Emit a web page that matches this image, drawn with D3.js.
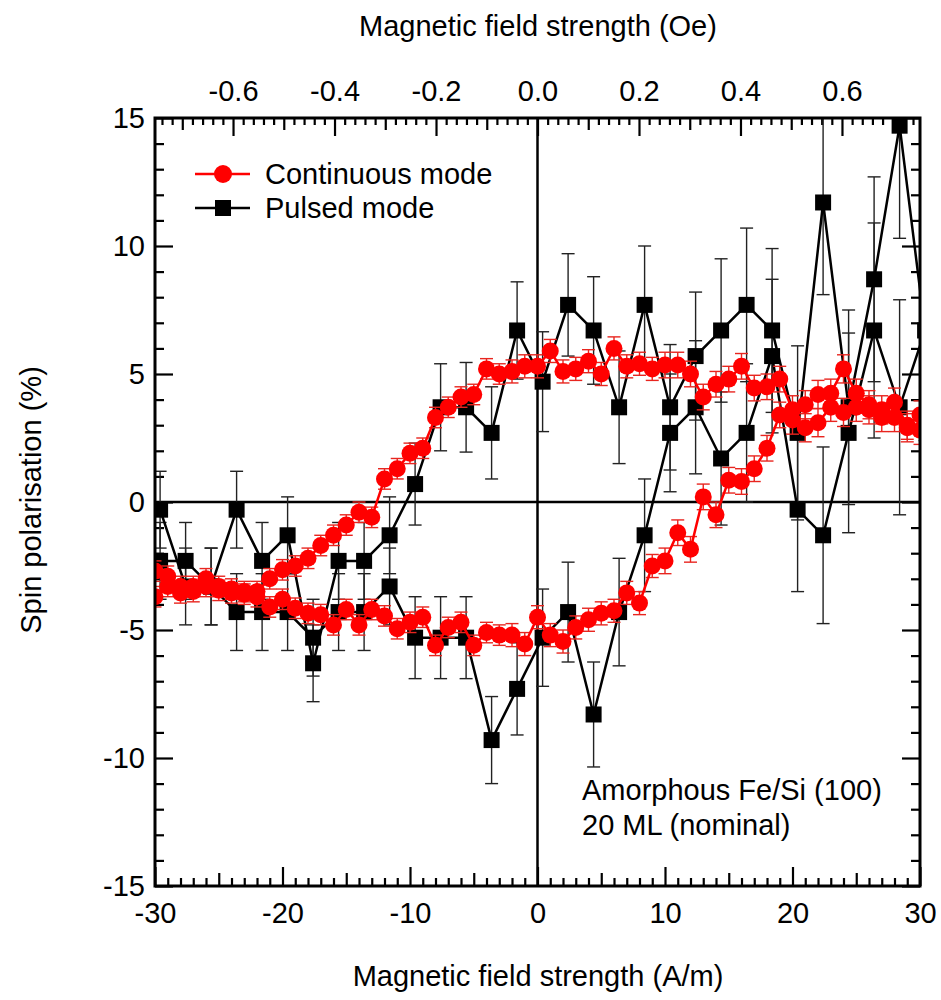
<!DOCTYPE html>
<html>
<head>
<meta charset="utf-8">
<script src="https://cdn.jsdelivr.net/npm/d3@7"></script>
<style>
  body { margin: 0; background: #fff; }
  svg text { font-family: "Liberation Sans", Arial, sans-serif; fill: #000; }
</style>
</head>
<body>
<div id="chart"></div>
<script>
// Datos: modo continuo (rojo, cada 1 A/m) y modo pulsado (negro, cada 2 A/m)
// Cada modo es un ciclo de histéresis: rama inferior (campo creciente) y rama superior.
const contX = [-30,-29,-28,-27,-26,-25,-24,-23,-22,-21,-20,-19,-18,-17,-16,-15,-14,-13,-12,-11,
  -10,-9,-8,-7,-6,-5,-4,-3,-2,-1,0,1,2,3,4,5,6,7,8,9,10,11,12,13,14,15,16,17,18,19,20,
  21,22,23,24,25,26,27,28,29,30];
const contLow = [-3.7,-3.3,-3.55,-3.5,-3.3,-3.45,-3.55,-3.6,-3.7,-4.1,-3.8,-4.15,-4.35,-4.4,-4.8,-4.2,-4.8,-4.2,-4.45,-4.95,
  -4.7,-4.5,-5.6,-4.9,-4.7,-5.6,-5.1,-5.2,-5.2,-5.55,-4.5,-5.2,-5.45,-4.9,-4.6,-4.35,-4.25,-3.55,-3.95,-2.5,-2.3,
  -1.2,-1.85,0.2,-0.5,0.85,0.8,1.3,2.1,3.4,3.2,2.9,3.1,3.7,3.5,3.7,3.6,3.3,3.3,2.9,2.8];
const contUp = [-2.7,-2.9,-3.3,-3.3,-3.0,-3.3,-3.4,-3.5,-3.5,-3.0,-2.65,-2.5,-2.2,-1.7,-1.3,-0.9,-0.4,-0.6,0.9,1.3,
  1.9,2.1,3.3,3.7,4.1,4.2,5.2,5.0,5.1,5.3,5.3,5.9,5.1,5.2,5.5,5.0,6.0,5.3,5.4,5.2,5.35,
  5.35,5.0,4.1,4.6,4.8,5.3,4.45,4.5,4.8,3.6,3.8,4.2,4.25,5.2,4.25,3.8,3.6,3.9,3.0,3.4];
const contLowErr = [0.4,0.4,0.4,0.4,0.4,0.4,0.4,0.4,0.4,0.4,0.4,0.4,0.4,0.4,0.4,0.4,0.4,0.4,0.4,0.4,
  0.4,0.4,0.4,0.4,0.4,0.4,0.4,0.4,0.45,0.45,0.45,0.45,0.45,0.45,0.45,0.45,0.45,0.45,0.45,0.45,0.5,
  0.5,0.5,0.5,0.5,0.5,0.5,0.5,0.5,0.5,0.55,0.55,0.55,0.55,0.55,0.55,0.55,0.55,0.55,0.55,0.55];
const contUpErr = [0.4,0.4,0.4,0.4,0.4,0.4,0.4,0.4,0.4,0.4,0.4,0.4,0.4,0.4,0.4,0.4,0.4,0.4,0.4,0.4,
  0.4,0.4,0.4,0.4,0.4,0.4,0.4,0.4,0.45,0.45,0.45,0.45,0.45,0.45,0.45,0.45,0.45,0.45,0.45,0.45,0.5,
  0.5,0.5,0.5,0.5,0.5,0.5,0.5,0.5,0.5,0.55,0.55,0.55,0.55,0.55,0.55,0.55,0.55,0.55,0.55,0.55];

const pulsedX = [-29.6,-27.6,-25.6,-23.6,-21.6,-19.6,-17.6,-15.6,-13.6,-11.6,-9.6,-7.6,-5.6,-3.6,-1.6,
  0.4,2.4,4.4,6.4,8.4,10.4,12.4,14.4,16.4,18.4,20.4,22.4,24.4,26.4,28.4];
const pulsedLow = [-2.3,-2.3,-3.3,-4.3,-4.3,-4.3,-5.3,-4.3,-4.3,-3.3,-5.3,-5.3,-5.3,-9.3,-7.3,
  -5.3,-4.3,-8.3,-4.3,-1.3,2.7,3.7,1.7,2.7,5.7,-0.3,-1.3,2.7,6.7,3.7];
const pulsedUp = [-0.3,-3.3,-3.3,-0.3,-2.3,-1.3,-6.3,-2.3,-2.3,-1.3,0.7,3.7,3.7,2.7,6.7,
  4.7,7.7,6.7,3.7,7.7,3.7,5.7,6.7,7.7,6.7,2.7,11.7,3.7,8.7,14.7];
const pulsedLowErr = [1.5,1.5,1.5,1.5,1.5,1.5,1.5,1.5,1.5,1.5,1.6,1.6,1.6,1.7,1.8,
  1.9,1.95,2.05,2.1,2.2,2.3,2.6,2.6,2.7,3.0,3.2,3.45,3.9,4.2,4.2];
const pulsedUpErr = [1.5,1.5,1.5,1.5,1.5,1.5,1.5,1.5,1.5,1.5,1.6,1.7,1.75,1.8,1.9,
  1.95,2.0,2.1,2.2,2.3,2.45,2.5,2.8,3.0,3.2,3.4,3.6,3.8,4.0,4.4];
// punto de giro del modo pulsado (fuera del marco, queda recortado)
const pulsedTurn = { x: 30.4, y: 6.7, e: 4.3 };

const xMajor = [-30,-20,-10,0,10,20,30];
const yMajor = [-15,-10,-5,0,5,10,15];
const oeMajor = [-0.6,-0.4,-0.2,0,0.2,0.4,0.6];
const amPerOe = 39.8; // escala superior tal como aparece en la figura

const seriesNames = ["Continuous mode", "Pulsed mode"];

// Dimensiones
const W = 941, H = 1000;
const mLeft = 155, mRight = 920, mTop = 118, mBottom = 886;
const fs = 29;

const x = d3.scaleLinear([-30, 30], [mLeft, mRight]);
const y = d3.scaleLinear([-15, 15], [mBottom, mTop]);
const xOe = d3.scaleLinear([-30 / amPerOe, 30 / amPerOe], [mLeft, mRight]);

const svg = d3.select("#chart").append("svg")
  .attr("width", W).attr("height", H);

svg.append("defs").append("clipPath").attr("id", "plotclip")
  .append("rect").attr("x", mLeft).attr("y", mTop)
  .attr("width", mRight - mLeft).attr("height", mBottom - mTop);

// Ejes: ticks hacia dentro con tres longitudes
function ticksAxis(axis, vals, len, pos, fmt, pad) {
  const g = svg.append("g").attr("transform", pos)
    .call(axis.tickValues(vals).tickSize(-len).tickPadding(pad || 0)
      .tickFormat(fmt || (() => "")));
  g.select(".domain").remove();
  g.selectAll("line").attr("stroke", "#000").attr("stroke-width", 2.2);
  g.selectAll("text").attr("font-size", fs).attr("fill", "#000")
    .attr("font-family", '"Liberation Sans", Arial, sans-serif');
  return g;
}

const bMinor = d3.range(-29, 30, 1).filter(d => d % 5 !== 0);
const bMed = [-25, -15, -5, 5, 15, 25];
ticksAxis(d3.axisBottom(x), bMinor, 8, `translate(0,${mBottom})`);
ticksAxis(d3.axisBottom(x), bMed, 13, `translate(0,${mBottom})`);
ticksAxis(d3.axisBottom(x), xMajor, 19, `translate(0,${mBottom})`, d => String(d), 16);

const tMinor = d3.range(-37, 38, 1).map(d => d / 50).filter(d => Math.abs(Math.round(d * 50)) % 5 !== 0);
const tMed = [-0.7, -0.5, -0.3, -0.1, 0.1, 0.3, 0.5, 0.7];
ticksAxis(d3.axisTop(xOe), tMinor, 7, `translate(0,${mTop})`);
ticksAxis(d3.axisTop(xOe), tMed, 12, `translate(0,${mTop})`);
ticksAxis(d3.axisTop(xOe), oeMajor, 18, `translate(0,${mTop})`, d => d.toFixed(1), 17);

const yMinor = d3.range(-14, 15, 1).filter(d => d % 5 !== 0);
ticksAxis(d3.axisLeft(y), yMinor, 9, `translate(${mLeft},0)`);
ticksAxis(d3.axisLeft(y), yMajor, 18, `translate(${mLeft},0)`, d => String(d), 10);
ticksAxis(d3.axisRight(y), yMinor, 9, `translate(${mRight},0)`);
ticksAxis(d3.axisRight(y), yMajor, 18, `translate(${mRight},0)`);

// Líneas de cero
svg.append("line").attr("x1", mLeft).attr("x2", mRight).attr("y1", y(0)).attr("y2", y(0))
  .attr("stroke", "#000").attr("stroke-width", 2.5);
svg.append("line").attr("x1", x(0)).attr("x2", x(0)).attr("y1", mTop).attr("y2", mBottom)
  .attr("stroke", "#000").attr("stroke-width", 2.5);

// Construye el ciclo: rama inferior ascendente y luego superior descendente
function loop(xs, low, lowE, up, upE, turn) {
  const a = xs.map((d, i) => ({ x: d, y: low[i], e: lowE[i] }));
  const b = xs.map((d, i) => ({ x: d, y: up[i], e: upE[i] })).reverse();
  return turn ? a.concat([turn], b) : a.concat(b);
}
const pulsed = loop(pulsedX, pulsedLow, pulsedLowErr, pulsedUp, pulsedUpErr, pulsedTurn);
const cont = loop(contX, contLow, contLowErr, contUp, contUpErr, null);

const plot = svg.append("g").attr("clip-path", "url(#plotclip)");
const line = d3.line().x(d => x(d.x)).y(d => y(d.y));

function errorBars(g, data, color, w, cap) {
  const eb = g.append("g").attr("stroke", color).attr("stroke-width", w).attr("fill", "none")
    .selectAll("g").data(data).join("g");
  eb.append("line").attr("x1", d => x(d.x)).attr("x2", d => x(d.x))
    .attr("y1", d => y(d.y - d.e)).attr("y2", d => y(d.y + d.e));
  eb.append("line").attr("x1", d => x(d.x) - cap).attr("x2", d => x(d.x) + cap)
    .attr("y1", d => y(d.y + d.e)).attr("y2", d => y(d.y + d.e));
  eb.append("line").attr("x1", d => x(d.x) - cap).attr("x2", d => x(d.x) + cap)
    .attr("y1", d => y(d.y - d.e)).attr("y2", d => y(d.y - d.e));
}

// Modo pulsado (negro, cuadrados)
errorBars(plot, pulsed, "#222", 1.4, 6.5);
plot.append("path").datum(pulsed).attr("d", line)
  .attr("fill", "none").attr("stroke", "#000").attr("stroke-width", 2.5);
plot.append("g").selectAll("rect").data(pulsed).join("rect")
  .attr("x", d => x(d.x) - 8).attr("y", d => y(d.y) - 8)
  .attr("width", 16).attr("height", 16).attr("fill", "#000");

// Modo continuo (rojo, círculos)
errorBars(plot, cont, "#e8251f", 1.4, 6.5);
plot.append("path").datum(cont).attr("d", line)
  .attr("fill", "none").attr("stroke", "#ff0000").attr("stroke-width", 2.5);
plot.append("g").selectAll("circle").data(cont).join("circle")
  .attr("cx", d => x(d.x)).attr("cy", d => y(d.y)).attr("r", 8.5).attr("fill", "#ff0000");

// Marco
svg.append("rect").attr("x", mLeft).attr("y", mTop)
  .attr("width", mRight - mLeft).attr("height", mBottom - mTop)
  .attr("fill", "none").attr("stroke", "#000").attr("stroke-width", 3);

// Leyenda
const leg = svg.append("g");
leg.append("line").attr("x1", 195).attr("x2", 250).attr("y1", 174).attr("y2", 174)
  .attr("stroke", "#ff0000").attr("stroke-width", 2.5);
leg.append("circle").attr("cx", 223).attr("cy", 174).attr("r", 9).attr("fill", "#ff0000");
leg.append("text").attr("x", 265).attr("y", 184).attr("font-size", fs).text(seriesNames[0]);
leg.append("line").attr("x1", 195).attr("x2", 250).attr("y1", 208).attr("y2", 208)
  .attr("stroke", "#000").attr("stroke-width", 2.5);
leg.append("rect").attr("x", 215).attr("y", 200).attr("width", 16).attr("height", 16).attr("fill", "#000");
leg.append("text").attr("x", 265).attr("y", 218).attr("font-size", fs).text(seriesNames[1]);

// Textos
svg.append("text").attr("x", 538).attr("y", 36).attr("text-anchor", "middle")
  .attr("font-size", fs).text("Magnetic field strength (Oe)");
svg.append("text").attr("x", 538).attr("y", 986).attr("text-anchor", "middle")
  .attr("font-size", fs).text("Magnetic field strength (A/m)");
svg.append("text").attr("transform", "translate(41,500) rotate(-90)").attr("text-anchor", "middle")
  .attr("font-size", fs).text("Spin polarisation (%)");
svg.append("text").attr("x", 582).attr("y", 800).attr("font-size", fs).text("Amorphous Fe/Si (100)");
svg.append("text").attr("x", 582).attr("y", 835).attr("font-size", fs).text("20 ML (nominal)");
</script>
</body>
</html>
